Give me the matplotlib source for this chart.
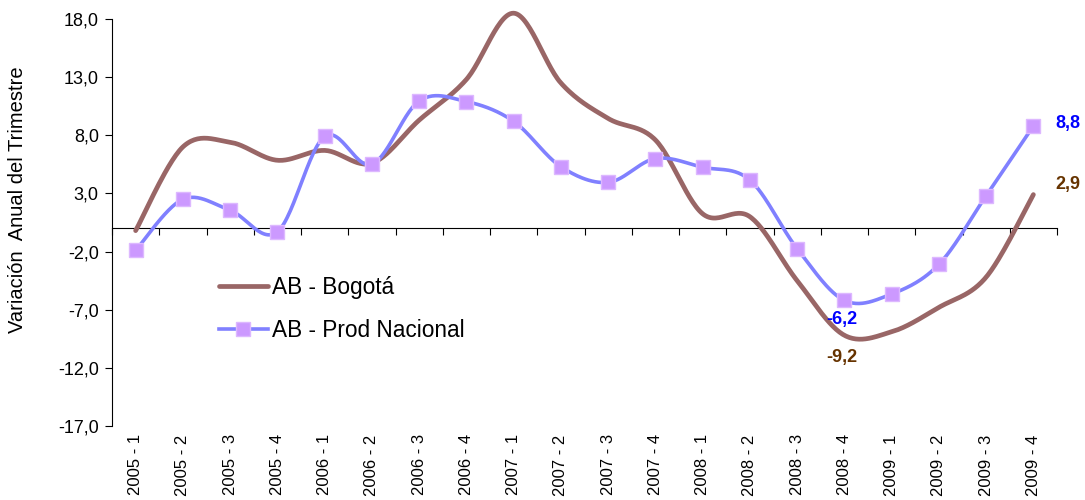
import numpy as np
import matplotlib
matplotlib.use("Agg")
import matplotlib.pyplot as plt
from matplotlib.ticker import FuncFormatter, FixedLocator

plt.rcParams['font.family'] = ['Liberation Sans', 'DejaVu Sans']

categories = ["2005 - 1", "2005 - 2", "2005 - 3", "2005 - 4",
              "2006 - 1", "2006 - 2", "2006 - 3", "2006 - 4",
              "2007 - 1", "2007 - 2", "2007 - 3", "2007 - 4",
              "2008 - 1", "2008 - 2", "2008 - 3", "2008 - 4",
              "2009 - 1", "2009 - 2", "2009 - 3", "2009 - 4"]
bogota = [-0.2, 7.0, 7.4, 5.85, 6.7, 5.6, 9.3, 12.8, 18.5, 12.5,
          9.45, 7.6, 1.25, 1.0, -4.5, -9.2, -8.9, -6.8, -4.2, 2.9]
nacional = [-1.9, 2.5, 1.55, -0.3, 7.9, 5.5, 10.95, 10.9, 9.2, 5.3,
            3.95, 6.0, 5.25, 4.15, -1.75, -6.2, -5.65, -3.1, 2.8, 8.8]
yticks = [-17, -12, -7, -2, 3, 8, 13, 18]


def smooth(xs, ys, n=30):
    xs = np.asarray(xs, float)
    ys = np.asarray(ys, float)
    P = np.column_stack([xs, ys])
    P = np.vstack([P[0], P, P[-1]])
    out = []
    t = np.linspace(0, 1, n)
    for i in range(1, len(P) - 2):
        p0, p1, p2, p3 = P[i - 1], P[i], P[i + 1], P[i + 2]
        c1 = p1 + (p2 - p0) / 6.0
        c2 = p2 - (p3 - p1) / 6.0
        seg = ((1 - t)[:, None] ** 3 * p1 + 3 * ((1 - t) ** 2 * t)[:, None] * c1
               + 3 * ((1 - t) * t ** 2)[:, None] * c2 + (t ** 3)[:, None] * p2)
        out.append(seg if i == 1 else seg[1:])
    S = np.vstack(out)
    return S[:, 0], S[:, 1]


fig = plt.figure(figsize=(10.85, 5.0), dpi=100)
ax = fig.add_axes([112 / 1085, 1 - 426 / 500, (1057 - 112) / 1085, (426 - 19) / 500])

x = np.arange(len(categories))
ymin, ymax = -17, 18

BROWN = '#996666'
BLUE = '#8080FF'
MFACE = '#CC99FF'
MEDGE = '#DDB8FF'

bx, by = smooth(x, bogota)
ax.plot(bx, by, color=BROWN, lw=3.4, solid_capstyle='round', zorder=3,
        clip_on=False)
nx, ny = smooth(x, nacional)
ax.plot(nx, ny, color=BLUE, lw=2.6, zorder=4, clip_on=False)
ax.plot(x, nacional, ls='none', marker='s', ms=9.6, mfc=MFACE,
        mec=MEDGE, mew=1, zorder=5, clip_on=False)

# legend proxies
hb, = ax.plot([], [], color=BROWN, lw=3.4, solid_capstyle='round')
hn, = ax.plot([], [], color=BLUE, lw=2.6, marker='s', ms=9.6, mfc=MFACE,
              mec=MEDGE)
fig.legend([hb, hn], ['AB - Bogotá', 'AB - Prod Nacional'], loc='center left',
           bbox_to_anchor=(219 / 1085, 1 - 309 / 500), bbox_transform=fig.transFigure,
           frameon=False, fontsize=16.3, handlelength=2.15, handletextpad=0.2,
           labelspacing=0.85, borderaxespad=0, borderpad=0)

ax.set_xlim(-0.5, len(categories) - 0.5)
ax.set_ylim(ymin, ymax)

for s in ['top', 'right', 'bottom']:
    ax.spines[s].set_visible(False)
ax.spines['left'].set_color('#000000')
ax.spines['left'].set_linewidth(0.8)

ax.set_yticks(yticks)
ax.yaxis.set_major_formatter(FuncFormatter(lambda v, p: f"{v:.1f}".replace('.', ',')))
ax.tick_params(axis='y', direction='out', length=5, width=0.8, labelsize=13, pad=4.5)

ax.set_xticks(x)
ax.set_xticklabels(categories, rotation=90, fontsize=12)
ax.tick_params(axis='x', length=0, pad=6)

zero = (0 - ymin) / (ymax - ymin)
sec = ax.secondary_xaxis(zero)
sec.xaxis.set_major_locator(FixedLocator(np.arange(-0.5, len(categories), 1.0)))
sec.tick_params(axis='x', direction='out', length=5, width=0.8, labelbottom=False,
                labeltop=False, top=False, bottom=True)
sec.spines['bottom'].set_linewidth(0.8)
for s in ['top', 'left', 'right']:
    sec.spines[s].set_visible(False)
sec.set_xticklabels([])

fig.text(18 / 1085, 1 - 200 / 500, 'Variación  Anual del Trimestre', rotation=90,
         ha='center', va='center', fontsize=14.5)

fmt = lambda v: f"{v:.1f}".replace('.', ',')
last = len(categories) - 1
ax.annotate(fmt(nacional[-1]), (x[last], nacional[-1]),
            xytext=(16, 1.5), textcoords='offset points', color='#0000FF',
            fontweight='bold', fontsize=13, va='center', ha='left')
ax.annotate(fmt(bogota[-1]), (x[last], bogota[-1]),
            xytext=(16, 7), textcoords='offset points', color='#663300',
            fontweight='bold', fontsize=13, va='center', ha='left')
imin = 15
ax.annotate(fmt(nacional[imin]), (x[imin], nacional[imin]),
            xytext=(-2, -14), textcoords='offset points', color='#0000FF',
            fontweight='bold', fontsize=13, va='center', ha='center')
ax.annotate(fmt(bogota[imin]), (x[imin], bogota[imin]),
            xytext=(-2, -16), textcoords='offset points', color='#663300',
            fontweight='bold', fontsize=13, va='center', ha='center')

fig.savefig('out.png', dpi=100)
